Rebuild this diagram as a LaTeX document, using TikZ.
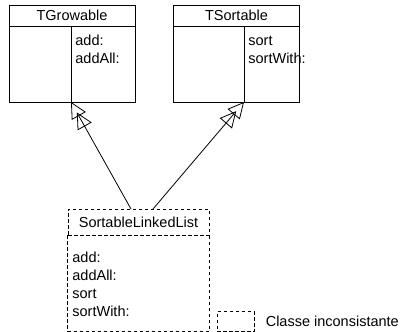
\documentclass[tikz,border=0pt]{standalone}
\usepackage{fontspec}
\setmainfont{Liberation Sans}
\usetikzlibrary{positioning,arrows.meta}

\tikzset{
  classhead/.style={draw, minimum width=126pt, minimum height=21pt, inner sep=0pt},
  classbody/.style={draw, minimum width=126pt, minimum height=76pt, inner sep=0pt},
  method/.style={anchor=base west, inner sep=0pt},
  inconsistent/.style={dash pattern=on 3.5pt off 2.5pt},
  inherits/.style={-{Triangle[open,length=16pt,width=16pt,sep=-4pt]Triangle[open,length=16pt,width=16pt]}},
}

\begin{document}
\begin{tikzpicture}[x=1pt, y=-1pt, line width=0.8pt, font=\fontsize{14.5}{17}\selectfont]
    \useasboundingbox (0,0) rectangle (407,332);

    % TGrowable
    \node[classhead] (tgrow) at (72,15.5) {TGrowable};
    \node[classbody, below=0pt of tgrow] (tgrowbody) {};
    \coordinate (tgrowdiv) at (71,102);
    \draw (tgrowdiv) -- (tgrowdiv |- tgrowbody.north);
    \node[method] (tgrowadd) at (75,45.5) {add:};
    \node[method] (tgrowaddall) at (75,63.5) {addAll:};

    % TSortable
    \node[classhead] (tsort) at (236.5,15.5) {TSortable};
    \node[classbody, below=0pt of tsort] (tsortbody) {};
    \coordinate (tsortdiv) at (244,102);
    \draw (tsortdiv) -- (tsortdiv |- tsortbody.north);
    \node[method] (tsortsort) at (248,45.5) {sort};
    \node[method] (tsortwith) at (248,63.5) {sortWith:};

    % SortableLinkedList (inconsistent)
    \node[classhead, inconsistent, minimum width=141pt, minimum height=26pt] (sll) at (138.5,222) {SortableLinkedList};
    \draw[inconsistent] (sll.south west) -- ++(0,96) -| (sll.south east);
    \node[method] (slladd) at (72,262) {add:};
    \node[method] (slladdall) at (72,280) {addAll:};
    \node[method] (sllsort) at (72,298) {sort};
    \node[method] (sllwith) at (72,316) {sortWith:};

    % inheritance
    \coordinate (sllgrow) at (131,209); \coordinate (sllsortable) at (153,209);
    \draw[inherits] (sllgrow) -- (tgrowdiv);
    \draw[inherits] (sllsortable) -- (tsortdiv);

    % legend
    \node[draw, inconsistent, minimum width=37pt, minimum height=20pt, inner sep=0pt] (legend) at (235.5,321.5) {};
    \node[right=11pt of legend, inner sep=0pt] (legendtext) {Classe inconsistante};
\end{tikzpicture}
\end{document}
